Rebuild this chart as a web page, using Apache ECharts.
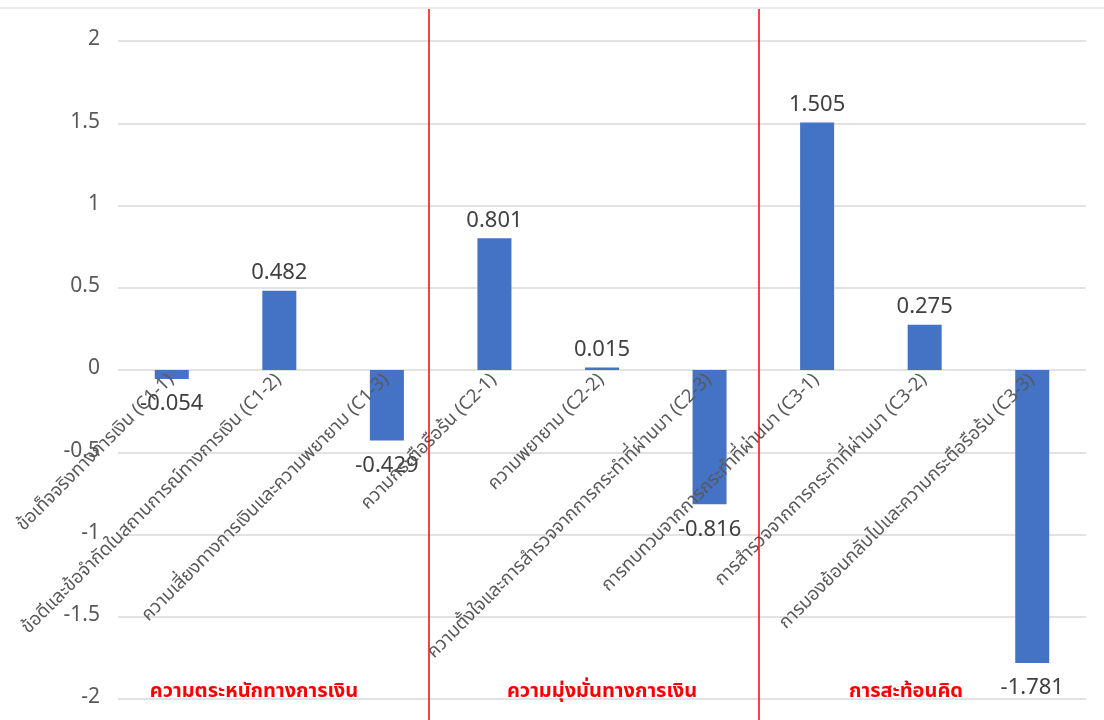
<!DOCTYPE html>
<html>
<head>
<meta charset="utf-8">
<script src="https://cdn.jsdelivr.net/npm/echarts@6/dist/echarts.min.js"></script>
<style>
  html, body { margin: 0; padding: 0; background: #fff; }
  #chart { width: 1104px; height: 720px; }
</style>
</head>
<body>
<div id="chart"></div>
<script>
// Sub-dimension labels and their standardized scores
const categories = [
  'ข้อเท็จจริงทางการเงิน (C1-1)',
  'ข้อดีและข้อจำกัดในสถานการณ์ทางการเงิน (C1-2)',
  'ความเสี่ยงทางการเงินและความพยายาม (C1-3)',
  'ความกระตือรือร้น (C2-1)',
  'ความพยายาม (C2-2)',
  'ความตั้งใจและการสำรวจจากการกระทำที่ผ่านมา (C2-3)',
  'การทบทวนจากการกระทำที่ผ่านมา (C3-1)',
  'การสำรวจจากการกระทำที่ผ่านมา (C3-2)',
  'การมองย้อนกลับไปและความกระตือรือร้น (C3-3)'
];
const scores = [-0.054, 0.482, -0.429, 0.801, 0.015, -0.816, 1.505, 0.275, -1.781];

// Group headings shown along the bottom
const groupNames = ['ความตระหนักทางการเงิน', 'ความมุ่งมั่นทางการเงิน', 'การสะท้อนคิด'];

const FONT = '"Noto Sans Thai", "Noto Sans", "DejaVu Sans", sans-serif';

const chart = echarts.init(document.getElementById('chart'), null, { renderer: 'canvas' });

chart.setOption({
  animation: false,
  backgroundColor: '#ffffff',
  grid: {
    left: 118, right: 18, top: 41, bottom: 21,
    containLabel: false,
    outerBoundsMode: 'none'
  },
  xAxis: {
    type: 'category',
    data: categories,
    z: 5,
    axisLine: { show: false },
    axisTick: { show: false },
    axisLabel: {
      interval: 0,
      rotate: 45,
      margin: 8,
      color: '#595959',
      fontSize: 18.5,
      fontFamily: FONT
    },
    splitLine: { show: false }
  },
  yAxis: {
    type: 'value',
    min: -2,
    max: 2,
    interval: 0.5,
    axisLine: { show: false },
    axisTick: { show: false },
    axisLabel: { color: '#595959', fontSize: 21, fontFamily: FONT, margin: 18 },
    splitLine: { lineStyle: { color: '#d9d9d9', width: 1.5 } }
  },
  series: [{
    type: 'bar',
    barWidth: 34,
    itemStyle: { color: '#4472C4' },
    data: scores.map(v => ({
      value: v,
      label: v < 0 ? { position: 'bottom', distance: 16 } : { position: 'top', distance: 5 }
    })),
    label: {
      show: true,
      color: '#404040',
      fontSize: 22,
      fontFamily: FONT,
      formatter: p => String(p.value)
    }
  }]
});

// Lift the category labels from the bottom edge up to the zero line
const zeroY = chart.convertToPixel({ yAxisIndex: 0 }, 0);
const floorY = chart.convertToPixel({ yAxisIndex: 0 }, -2);
chart.setOption({ xAxis: { offset: zeroY - floorY } });

// Red dividers between the three groups and their headings
function drawOverlay() {
  const dividers = [429, 759];
  const centers = [254, 602, 906];
  const elements = [
    { type: 'line', shape: { x1: 0, y1: 8, x2: 1104, y2: 8 }, style: { stroke: '#d9d9d9', lineWidth: 1 } }
  ];
  dividers.forEach(x => elements.push({
    type: 'rect', shape: { x: x - 0.75, y: 9, width: 1.5, height: 711 },
    style: { fill: '#ff0000' }, z: 10
  }));
  groupNames.forEach((name, i) => elements.push({
    type: 'text', x: centers[i], y: 693, z: 10,
    style: { text: name, fill: '#ff0000', font: 'bold 20px ' + FONT, align: 'center', verticalAlign: 'middle' }
  }));
  chart.setOption({ graphic: { elements } });
}
drawOverlay();
</script>
</body>
</html>
